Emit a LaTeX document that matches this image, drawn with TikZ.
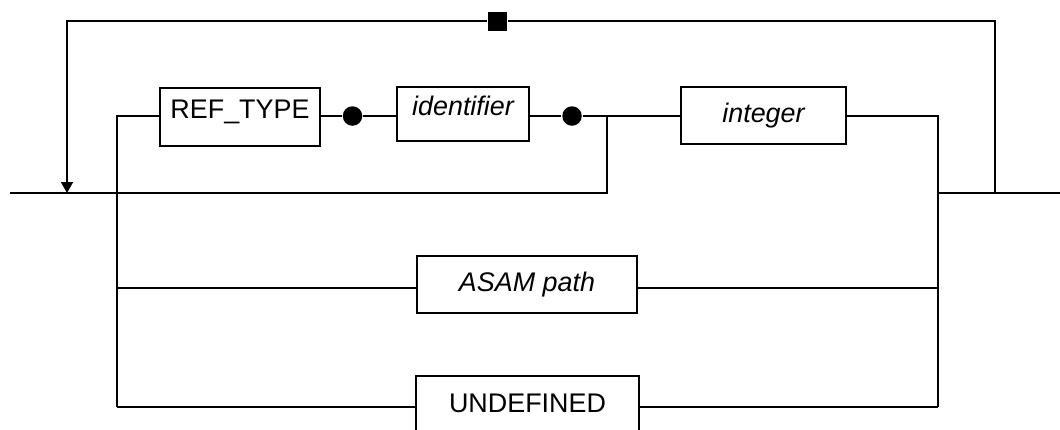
\documentclass[tikz,border=0pt]{standalone}
\usepackage{fontspec}
\setmainfont{Liberation Sans}
\usetikzlibrary{arrows.meta}
\begin{document}
\begin{tikzpicture}[x=1bp,y=-1bp,line width=1.6bp,
  box/.style={draw,rectangle,inner xsep=0pt,inner ysep=0pt,line width=1.6bp,
    font=\fontsize{27}{30}\selectfont},
  dotnode/.style={circle,fill,inner sep=0pt,minimum size=19.5bp},
  sqnode/.style={rectangle,fill,inner sep=0pt,minimum size=19bp},
  conn/.style={draw,line width=1.6bp}]
\clip (0,0) rectangle (1060,429);
% boxes
\node[box,minimum width=160bp,text height=30bp,text depth=28bp] (reftype) at (240,117) {REF\_TYPE};
\node[box,minimum width=132bp,text height=28bp,text depth=26bp,font=\fontsize{27}{30}\selectfont\itshape] (ident) at (463,114) {identifier};
\node[box,minimum width=165bp,text height=35bp,text depth=22bp,font=\fontsize{27}{30}\selectfont\itshape] (integer) at (763.5,115.5) {integer};
\node[box,minimum width=220bp,text height=35bp,text depth=22bp,font=\fontsize{27}{30}\selectfont\itshape] (asam) at (527,284.5) {ASAM path};
\node[box,minimum width=223bp,text height=36bp,text depth=26bp] (undef) at (527.5,407) {UNDEFINED};
% dots and square
\node[dotnode] (d1) at (352.5,116) {};
\node[dotnode] (d2) at (572,116) {};
\node[sqnode] (sq) at (497.5,21) {};
% coordinates
\coordinate (dl) at (0,116);
\coordinate (in) at (10,193);
\coordinate (j1) at (607,193);
\coordinate (j1t) at (607,116);
\coordinate (lvt) at (117,116);
\coordinate (lva) at (117,288);
\coordinate (lvu) at (117,407);
\coordinate (rvt) at (938,116);
\coordinate (rvm) at (938,193);
\coordinate (rva) at (938,288);
\coordinate (rvu) at (938,407);
\coordinate (out) at (1060,193);
\coordinate (lp1) at (995,193);
\coordinate (lp4) at (67,193);
% main line
\draw[conn] (in) -- (j1) -- (j1t);
% optional prefix
\draw[conn] (lvu) -- (lvt) -- (reftype.west |- lvt);
\draw[conn] (reftype.east |- dl) -- (d1);
\draw[conn] (d1) -- (ident.west |- dl);
\draw[conn] (ident.east |- dl) -- (d2);
\draw[conn] (d2) -- (integer.west |- dl);
% right side
\draw[conn] (integer.east |- dl) -- (rvt) -- (rvu);
\draw[conn] (rvm) -- (out);
% alternatives
\draw[conn] (lva) -- (asam.west |- lva);
\draw[conn] (asam.east |- rva) -- (rva);
\draw[conn] (lvu) -- (undef.west |- lvu);
\draw[conn] (undef.east |- rvu) -- (rvu);
% loop back
\draw[conn] (lp1) |- (sq);
\draw[conn,-{Triangle[width=12bp,length=11bp]}] (sq) -| (lp4);
\end{tikzpicture}
\end{document}
